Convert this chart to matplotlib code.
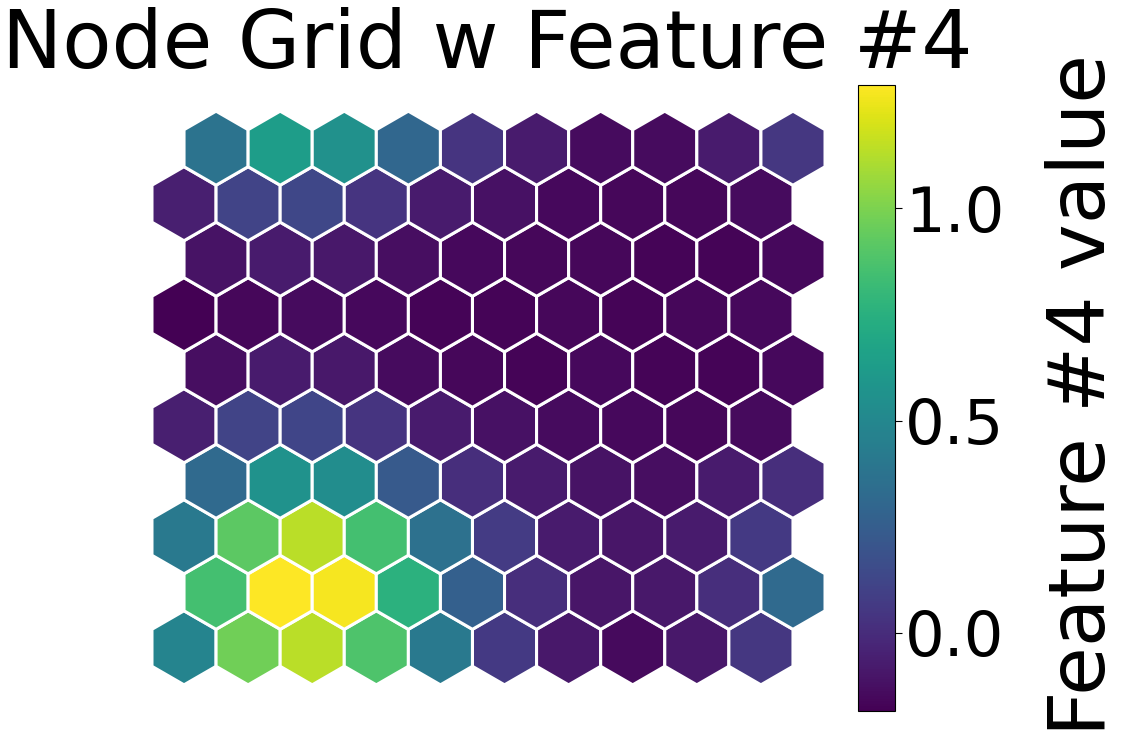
import matplotlib
matplotlib.use("Agg")
import matplotlib.pyplot as plt
from matplotlib.patches import RegularPolygon
from matplotlib import cm, colors
import numpy as np

# feature #4 value per node, rows listed from the top of the grid down
row_10 = [0.38, 0.63, 0.555, 0.30, 0.04, -0.08, -0.14, -0.14, -0.08, 0.05]
row_9 = [-0.06, 0.11, 0.13, 0.04, -0.08, -0.12, -0.15, -0.16, -0.16, -0.14]
row_8 = [-0.11, -0.08, -0.09, -0.13, -0.15, -0.16, -0.16, -0.17, -0.17, -0.15]
row_7 = [-0.18, -0.16, -0.14, -0.155, -0.17, -0.17, -0.16, -0.17, -0.16, -0.155]
row_6 = [-0.13, -0.08, -0.09, -0.14, -0.16, -0.17, -0.155, -0.17, -0.17, -0.15]
row_5 = [-0.06, 0.11, 0.12, 0.04, -0.08, -0.12, -0.14, -0.155, -0.16, -0.145]
row_4 = [0.32, 0.57, 0.53, 0.23, 0.01, -0.08, -0.11, -0.13, -0.08, 0.01]
row_3 = [0.41, 0.92, 1.14, 0.85, 0.36, 0.07, -0.08, -0.10, -0.08, 0.06]
row_2 = [0.85, 1.29, 1.27, 0.76, 0.26, 0.01, -0.10, -0.09, 0.01, 0.32]
row_1 = [0.48, 0.97, 1.14, 0.88, 0.41, 0.06, -0.09, -0.145, -0.09, 0.05]

grid = np.array([row_1, row_2, row_3, row_4, row_5,
                 row_6, row_7, row_8, row_9, row_10])  # grid[0] = bottom row

vmin, vmax = -0.184, 1.29
norm = colors.Normalize(vmin=vmin, vmax=vmax)
cmap = cm.viridis

fig = plt.figure(figsize=(11.32, 7.5), dpi=100)

W, H = 1132, 750
unit = 64.1  # pixels per grid step
ax_left, ax_right = 130, 847
ax_top, ax_bot = 85, 711
ax = fig.add_axes([ax_left / W, (H - ax_bot) / H,
                   (ax_right - ax_left) / W, (ax_bot - ax_top) / H])

r = 1 / np.sqrt(3)
for j in range(grid.shape[0]):
    for i in range(grid.shape[1]):
        x = i + 0.5 * (j % 2)
        y = j * np.sqrt(3) / 2
        hexa = RegularPolygon((x, y), numVertices=6, radius=r,
                              facecolor=cmap(norm(grid[j, i])),
                              edgecolor='white', linewidth=2.2)
        ax.add_patch(hexa)

cx = 4.75
cy = (-r + 9 * np.sqrt(3) / 2 + r) / 2
half_w = (ax_right - ax_left) / unit / 2
half_h = (ax_bot - ax_top) / unit / 2
ax.set_xlim(cx - half_w, cx + half_w)
ax.set_ylim(cy - half_h, cy + half_h)
ax.axis('off')

cax = fig.add_axes([858 / W, (H - 711) / H, 37 / W, 626 / H])
sm = cm.ScalarMappable(norm=norm, cmap=cmap)
cb = fig.colorbar(sm, cax=cax)
cb.set_ticks([0.0, 0.5, 1.0])
cb.ax.tick_params(labelsize=45, length=5, pad=2)

fig.text(487 / W, (H - 68) / H, 'Node Grid w Feature #4', fontsize=58,
         ha='center', va='baseline')
fig.text(1083 / W, (H - 395) / H, 'Feature #4 value', fontsize=57,
         rotation=90, ha='center', va='center')

fig.savefig('out.png', dpi=100)
